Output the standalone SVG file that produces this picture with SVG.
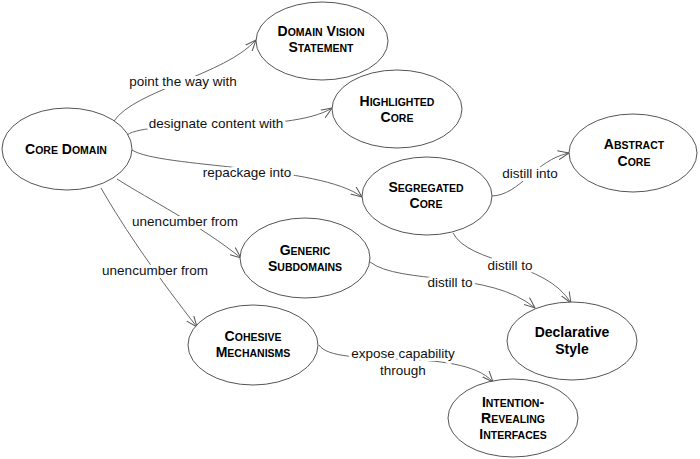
<svg xmlns="http://www.w3.org/2000/svg" width="700" height="459" viewBox="0 0 700 459">
<style>
.node ellipse{fill:#fff;stroke:#555;stroke-width:1}
.node text{font-family:"Liberation Sans",Arial,sans-serif;font-weight:bold;font-size:14px;fill:#000;text-anchor:middle}
.sc{font-size:10.5px}
.edge path{fill:none;stroke:#666;stroke-width:1}
.lbl{font-family:"Liberation Sans",Arial,sans-serif;font-size:13.5px;fill:#111;stroke:#fff;stroke-width:6px;paint-order:stroke;stroke-linejoin:round}
</style>
<defs>
<marker id="arr" viewBox="0 0 12 10" refX="11" refY="5" markerWidth="12" markerHeight="10" markerUnits="userSpaceOnUse" orient="auto">
<path d="M0,0.5 L11,5 L0,9.5" fill="none" stroke="#555" stroke-width="1"/>
</marker>
</defs>
<rect width="700" height="459" fill="#fff"/>
<g id="connectors" class="edge">
<path d="M114,121 C135,90 225,75 256,40" marker-end="url(#arr)"/>
<path d="M127,135 C150,118 290,135 332,108" marker-end="url(#arr)"/>
<path d="M132,150 C160,168 320,165 362,197" marker-end="url(#arr)"/>
<path d="M492,196 C520,195 535,160 569,153" marker-end="url(#arr)"/>
<path d="M453,233 C470,265 545,260 571,303" marker-end="url(#arr)"/>
<path d="M370,262 C400,285 490,270 535,308" marker-end="url(#arr)"/>
<path d="M117,179 C150,200 200,225 241,258" marker-end="url(#arr)"/>
<path d="M101,188 C125,230 160,280 197,327" marker-end="url(#arr)"/>
<path d="M319,345 C335,370 460,345 493,382" marker-end="url(#arr)"/>
</g>
<g id="labels">
<text class="lbl" x="183" y="86" text-anchor="middle">point the way with</text>
<text class="lbl" x="216" y="128" text-anchor="middle">designate content with</text>
<text class="lbl" x="247" y="177" text-anchor="middle">repackage into</text>
<text class="lbl" x="530" y="178" text-anchor="middle">distill into</text>
<text class="lbl" x="510" y="270" text-anchor="middle">distill to</text>
<text class="lbl" x="450" y="287" text-anchor="middle">distill to</text>
<text class="lbl" x="185" y="226" text-anchor="middle">unencumber from</text>
<text class="lbl" x="155" y="275" text-anchor="middle">unencumber from</text>
<text class="lbl" x="403" y="358" text-anchor="middle">expose capability</text>
<text class="lbl" x="403" y="375" text-anchor="middle">through</text>
</g>
<g id="core-domain" class="node">
<ellipse cx="67" cy="149" rx="65" ry="41"/>
<text x="66" y="154">C<tspan class="sc">ORE</tspan> D<tspan class="sc">OMAIN</tspan></text>
</g>
<g id="domain-vision-statement" class="node">
<ellipse cx="322" cy="41" rx="66" ry="39"/>
<text x="321" y="36">D<tspan class="sc">OMAIN</tspan> V<tspan class="sc">ISION</tspan></text>
<text x="321" y="52">S<tspan class="sc">TATEMENT</tspan></text>
</g>
<g id="highlighted-core" class="node">
<ellipse cx="397" cy="109" rx="65" ry="39"/>
<text x="397" y="106">H<tspan class="sc">IGHLIGHTED</tspan></text>
<text x="397" y="122">C<tspan class="sc">ORE</tspan></text>
</g>
<g id="abstract-core" class="node">
<ellipse cx="633" cy="153" rx="64" ry="39"/>
<text x="634" y="149">A<tspan class="sc">BSTRACT</tspan></text>
<text x="634" y="166">C<tspan class="sc">ORE</tspan></text>
</g>
<g id="segregated-core" class="node">
<ellipse cx="427" cy="196" rx="65" ry="39"/>
<text x="426" y="192">S<tspan class="sc">EGREGATED</tspan></text>
<text x="426" y="208">C<tspan class="sc">ORE</tspan></text>
</g>
<g id="generic-subdomains" class="node">
<ellipse cx="305" cy="258" rx="65" ry="40"/>
<text x="305" y="255">G<tspan class="sc">ENERIC</tspan></text>
<text x="305" y="271">S<tspan class="sc">UBDOMAINS</tspan></text>
</g>
<g id="cohesive-mechanisms" class="node">
<ellipse cx="253" cy="345" rx="65" ry="40"/>
<text x="253" y="341">C<tspan class="sc">OHESIVE</tspan></text>
<text x="253" y="357">M<tspan class="sc">ECHANISMS</tspan></text>
</g>
<g id="declarative-style" class="node">
<ellipse cx="572" cy="341" rx="65" ry="39"/>
<text x="572" y="337">Declarative</text>
<text x="572" y="354">Style</text>
</g>
<g id="intention-revealing-interfaces" class="node">
<ellipse cx="513" cy="418" rx="65" ry="39"/>
<text x="513" y="407">I<tspan class="sc">NTENTION</tspan>-</text>
<text x="513" y="423">R<tspan class="sc">EVEALING</tspan></text>
<text x="513" y="439">I<tspan class="sc">NTERFACES</tspan></text>
</g>
</svg>
